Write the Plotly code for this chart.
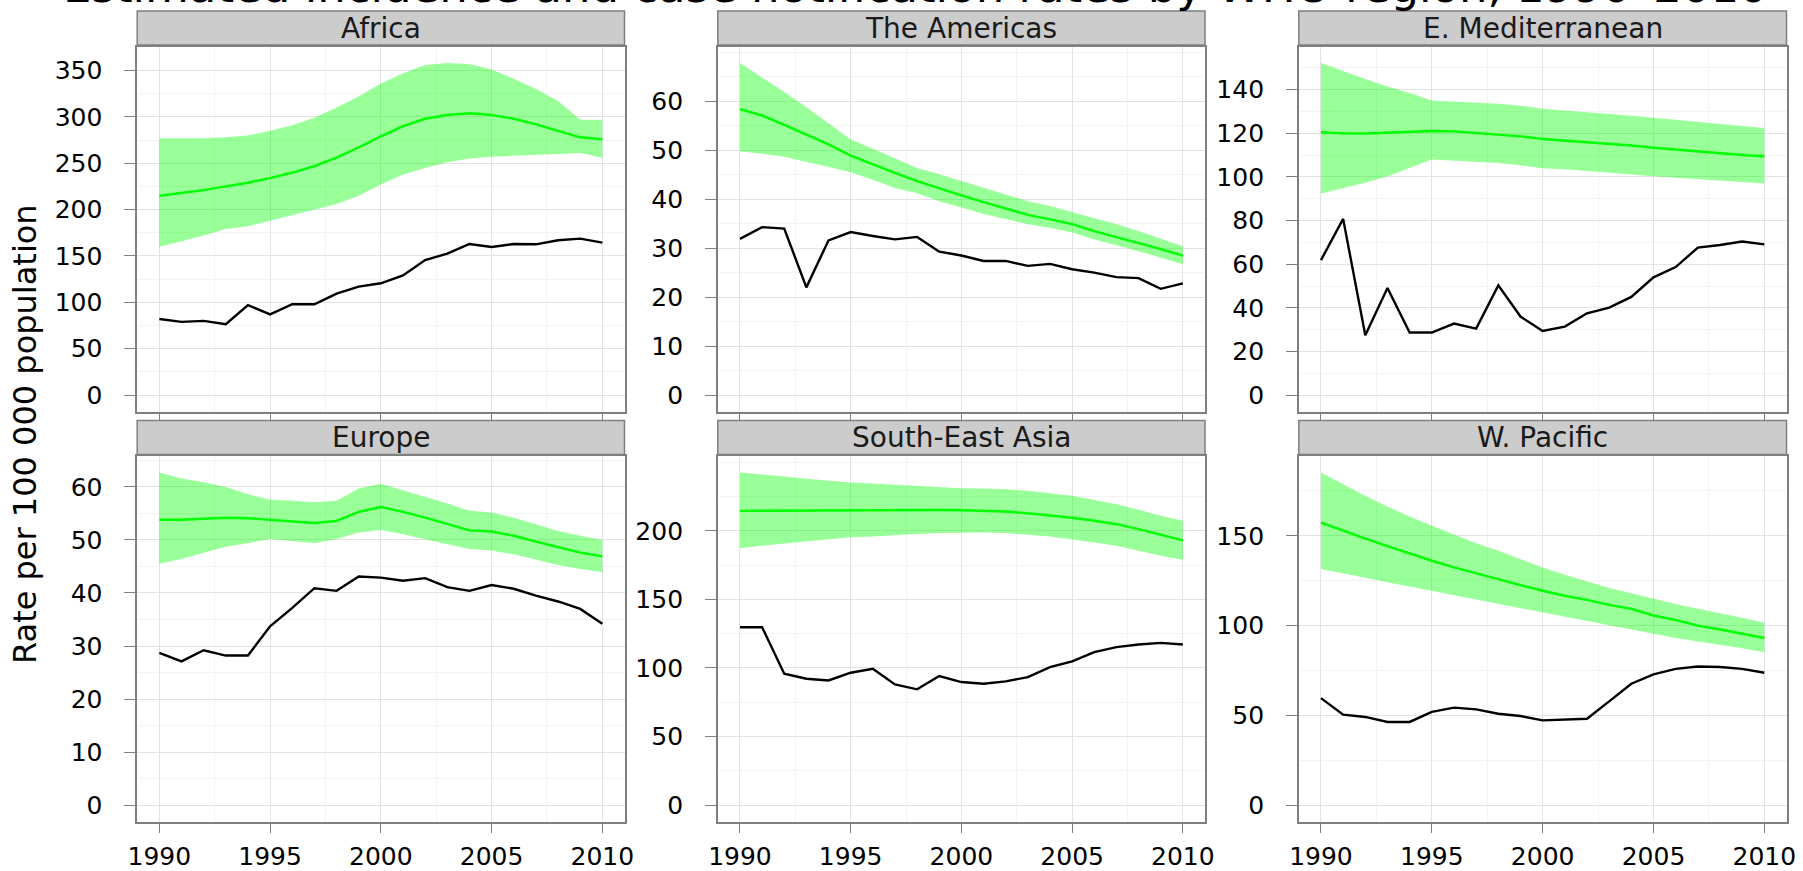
import plotly.graph_objects as go

years = list(range(1990, 2011))

regions = ["Africa", "The Americas", "E. Mediterranean", "Europe", "South-East Asia", "W. Pacific"]

afr_inc = [215, 218, 221, 225, 229, 234, 240, 247, 256, 267, 279, 290, 298, 302, 304, 302, 298, 292, 285, 278, 276]
afr_lo = [160, 166, 172, 179, 182, 188, 194, 200, 206, 215, 227, 238, 245, 251, 255, 257, 258, 259, 260, 261, 256]
afr_hi = [277, 277, 277, 278, 280, 285, 291, 299, 310, 322, 336, 347, 356, 358, 357, 351, 341, 330, 317, 297, 297]
afr_not = [82, 79, 80, 76.5, 97, 87, 98, 98, 109.5, 117, 120.6, 129, 145.7, 152.5, 163, 159.7, 163, 162.6, 167, 168.7, 164.4]

amr_inc = [58.4, 57.1, 55.2, 53.2, 51.2, 48.9, 47.1, 45.4, 43.7, 42.2, 40.8, 39.4, 38.1, 36.8, 35.9, 34.9, 33.5, 32.3, 31.0, 29.8, 28.5]
amr_lo = [49.8, 49.3, 48.7, 47.6, 46.6, 45.5, 44.0, 42.3, 41.2, 39.6, 38.3, 37.0, 35.9, 34.9, 34.2, 33.2, 31.8, 30.6, 29.4, 28.1, 26.7]
amr_hi = [67.8, 64.9, 61.9, 58.8, 55.5, 52.2, 50.3, 48.3, 46.4, 45.1, 43.7, 42.3, 41.0, 39.6, 38.6, 37.4, 36.2, 34.9, 33.5, 31.9, 30.4]
amr_not = [31.9, 34.3, 34.0, 22.0, 31.6, 33.3, 32.5, 31.8, 32.3, 29.3, 28.5, 27.4, 27.4, 26.4, 26.8, 25.7, 25.0, 24.1, 23.9, 21.7, 22.8]

emr_inc = [120.5, 120.0, 119.9, 120.2, 120.6, 121.1, 120.9, 120.2, 119.4, 118.6, 117.4, 116.7, 116.0, 115.3, 114.4, 113.4, 112.5, 111.8, 111.0, 110.1, 109.5]
emr_lo = [92.4, 95.0, 97.3, 100.3, 104.1, 108.0, 107.7, 107.0, 106.4, 105.4, 104.0, 103.5, 102.8, 101.9, 101.1, 100.3, 99.6, 99.0, 98.4, 97.6, 97.0]
emr_hi = [152.2, 148.4, 144.9, 141.5, 138.5, 135.1, 134.6, 134.2, 133.6, 132.7, 131.3, 130.5, 129.8, 129.0, 128.1, 127.2, 126.3, 125.3, 124.4, 123.5, 122.4]
emr_not = [61.9, 80.8, 27.4, 49.1, 28.7, 28.7, 32.8, 30.5, 50.3, 36.0, 29.4, 31.4, 37.5, 40.1, 45.0, 54.0, 58.7, 67.6, 68.8, 70.4, 69.1]

eur_inc = [53.8, 53.8, 54.0, 54.2, 54.1, 53.8, 53.5, 53.2, 53.6, 55.3, 56.2, 55.3, 54.2, 53.0, 51.8, 51.6, 50.8, 49.7, 48.6, 47.6, 46.9]
eur_lo = [45.5, 46.4, 47.6, 48.7, 49.4, 50.2, 49.8, 49.4, 50.2, 51.4, 51.9, 51.1, 50.2, 49.2, 48.3, 48.0, 47.3, 46.3, 45.3, 44.5, 43.9]
eur_hi = [62.7, 61.6, 60.9, 60.0, 58.6, 57.6, 57.4, 57.1, 57.4, 59.7, 60.6, 59.4, 58.2, 56.9, 55.5, 55.2, 54.2, 53.0, 51.7, 50.8, 50.0]
eur_not = [28.7, 27.1, 29.2, 28.2, 28.2, 33.7, 37.2, 40.9, 40.4, 43.1, 42.9, 42.3, 42.8, 41.1, 40.4, 41.5, 40.8, 39.5, 38.4, 37.0, 34.2]

sea_inc = [214.5, 214.6, 214.8, 215.0, 215.0, 215.0, 215.0, 215.1, 215.2, 215.2, 215.0, 214.6, 214.0, 212.8, 211.4, 209.5, 207.3, 204.8, 201.2, 197.0, 193.0]
sea_lo = [187.2, 189.1, 190.8, 192.2, 193.9, 195.2, 195.9, 196.6, 197.6, 198.3, 198.8, 198.8, 198.3, 197.1, 195.9, 193.9, 191.5, 189.1, 185.5, 181.8, 178.9]
sea_hi = [242.4, 241.2, 239.5, 238.0, 236.6, 235.2, 234.4, 233.5, 232.7, 231.8, 231.0, 230.8, 230.3, 229.1, 227.4, 225.5, 222.5, 219.4, 215.3, 210.9, 207.3]
sea_not = [129.7, 129.7, 95.8, 92.1, 90.9, 96.5, 99.4, 88.0, 84.4, 94.1, 89.7, 88.5, 90.2, 93.3, 100.6, 104.7, 111.5, 115.2, 117.1, 118.3, 117.1]

wpr_inc = [157.4, 152.8, 148.4, 144.2, 140.1, 136.1, 132.4, 129.0, 125.9, 122.5, 119.4, 116.6, 114.3, 111.5, 109.3, 105.6, 103.1, 100.0, 97.8, 95.5, 93.1]
wpr_lo = [131.5, 129.1, 126.7, 124.1, 121.7, 119.1, 116.7, 114.3, 112.0, 109.6, 107.0, 104.6, 102.4, 100.0, 97.8, 95.4, 93.1, 91.1, 89.3, 87.4, 85.2]
wpr_hi = [185.2, 178.7, 172.2, 166.3, 160.7, 155.6, 150.6, 145.9, 141.7, 137.0, 132.4, 128.3, 124.6, 120.9, 118.0, 114.8, 112.0, 109.3, 106.9, 104.3, 101.5]
wpr_not = [59.6, 50.4, 49.1, 46.3, 46.3, 51.9, 54.3, 53.3, 50.9, 49.6, 47.2, 47.8, 48.1, 57.8, 67.6, 72.8, 75.9, 77.2, 76.9, 75.9, 73.7]

y_dticks = [50, 10, 20, 10, 50, 50]
x_ticks = [1990, 1995, 2000, 2005, 2010]

title_text = "Estimated incidence and case notification rates by WHO region, 1990\u20132010"
y_title = "Rate per 100 000 population"

series = [
    (afr_inc, afr_lo, afr_hi, afr_not),
    (amr_inc, amr_lo, amr_hi, amr_not),
    (emr_inc, emr_lo, emr_hi, emr_not),
    (eur_inc, eur_lo, eur_hi, eur_not),
    (sea_inc, sea_lo, sea_hi, sea_not),
    (wpr_inc, wpr_lo, wpr_hi, wpr_not),
]

W, H = 1803, 871
FONT = "DejaVu Sans"
col_px = [(137.2, 624.5), (717.8, 1205.0), (1298.8, 1786.5)]
row_px = [(46.5, 411.7), (456.0, 821.7)]
STRIP_H = 34.0

GRID_MAJOR = "#E3E3E3"
GRID_MINOR = "#F3F3F3"
FRAME = "#7F7F7F"

fig = go.Figure()
shapes = []
annotations = []

for i, (inc, lo, hi, notif) in enumerate(series):
    r, c = divmod(i, 3)
    ax = "" if i == 0 else str(i + 1)
    xa, ya = "x" + ax, "y" + ax
    x0, x1 = col_px[c]
    yt, yb = row_px[r]

    # uncertainty band
    fig.add_trace(go.Scatter(
        x=years + years[::-1], y=hi + lo[::-1], fill="toself",
        fillcolor="rgba(0,255,0,0.4)", line=dict(width=0), mode="lines",
        hoverinfo="skip", showlegend=False, xaxis=xa, yaxis=ya))
    fig.add_trace(go.Scatter(
        x=years, y=inc, mode="lines", line=dict(color="#00FF00", width=2.4),
        showlegend=False, xaxis=xa, yaxis=ya))
    fig.add_trace(go.Scatter(
        x=years, y=notif, mode="lines", line=dict(color="#000000", width=2.4),
        showlegend=False, xaxis=xa, yaxis=ya))

    M = max(max(hi), max(notif), max(inc))
    dt = y_dticks[i]
    tv = list(range(0, int(M) + 1, dt))

    fig.layout["xaxis" + ax] = dict(
        domain=[x0 / W, x1 / W], anchor=ya, range=[1989, 2011], automargin=False,
        tickmode="array", tickvals=x_ticks, ticktext=[str(v) for v in x_ticks],
        showticklabels=(r == 1),
        ticks="outside", ticklen=10, tickwidth=1.3, tickcolor=FRAME,
        ticklabelstandoff=2,
        showgrid=True, gridcolor=GRID_MAJOR, gridwidth=1,
        minor=dict(tick0=1990, dtick=2.5, showgrid=True, gridcolor=GRID_MINOR, gridwidth=1, ticklen=0),
        showline=True, linecolor=FRAME, linewidth=1.5, mirror=True,
        zeroline=False, tickfont=dict(family=FONT, size=25, color="#000000"),
    )
    fig.layout["yaxis" + ax] = dict(
        domain=[1 - yb / H, 1 - yt / H], anchor=xa, range=[-0.05 * M, 1.05 * M], automargin=False,
        tickmode="array", tickvals=tv, ticktext=[str(v) for v in tv],
        ticks="outside", ticklen=11, tickwidth=1.3, tickcolor=FRAME,
        ticklabelstandoff=17,
        showgrid=True, gridcolor=GRID_MAJOR, gridwidth=1,
        minor=dict(tick0=0, dtick=dt / 2, showgrid=True, gridcolor=GRID_MINOR, gridwidth=1, ticklen=0),
        showline=True, linecolor=FRAME, linewidth=1.5, mirror=True,
        zeroline=False, tickfont=dict(family=FONT, size=25, color="#000000"),
    )

    # strip
    s_bot = yt - 1.5
    s_top = s_bot - STRIP_H
    shapes.append(dict(type="rect", xref="paper", yref="paper",
                       x0=x0 / W, x1=x1 / W, y0=1 - s_bot / H, y1=1 - s_top / H,
                       fillcolor="#CCCCCC", line=dict(color=FRAME, width=1.5), layer="above"))
    annotations.append(dict(text=regions[i], xref="paper", yref="paper",
                            x=(x0 + x1) / 2 / W, y=1 - (s_top + s_bot) / 2 / H,
                            xanchor="center", yanchor="middle", showarrow=False,
                            font=dict(family=FONT, size=28, color="#1A1A1A")))

annotations.append(dict(text=y_title, xref="paper", yref="paper",
                        x=25 / W, y=1 - 434 / H, textangle=-90,
                        xanchor="center", yanchor="middle", showarrow=False,
                        font=dict(family=FONT, size=32, color="#000000")))
annotations.append(dict(text=title_text, xref="paper", yref="paper",
                        x=915 / W, y=1 - 15 / H, xanchor="center", yanchor="bottom",
                        showarrow=False, font=dict(family=FONT, size=45, color="#000000")))

fig.update_layout(
    width=W, height=H, margin=dict(l=0, r=0, t=0, b=0, autoexpand=False),
    paper_bgcolor="white", plot_bgcolor="white",
    shapes=shapes, annotations=annotations, showlegend=False,
)

fig.write_html(
    "out.html",
    config={"displayModeBar": False},
    post_script="document.body.style.margin='0';document.body.style.padding='0';"
                "document.body.style.overflow='hidden';",
)
